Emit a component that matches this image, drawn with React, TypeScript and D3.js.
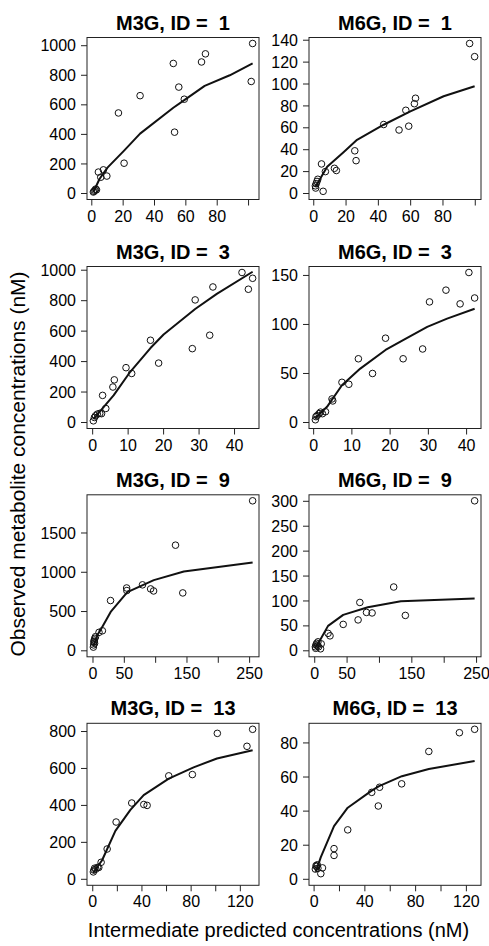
import React from 'react';
import * as d3 from 'd3';

type Pt = [number, number];

// observed (x = intermediate predicted, y = observed) and fitted curve, per panel
const m3g1Obs: Pt[] = [
  [1.0, 10], [1.5, 15], [2.0, 22], [2.5, 30], [3.0, 25], [4.2, 145], [5.7, 110], [7.4, 160],
  [9.6, 118], [17, 545], [20.6, 205], [30.8, 662], [52, 880], [52.8, 415], [55.5, 720],
  [59, 638], [70, 890], [72.5, 945], [101.7, 758], [102.6, 1015],
];
const m3g1Fit: Pt[] = [
  [1, 10], [5, 100], [10, 175], [20.6, 290], [30.8, 405], [52, 580], [59, 632], [72, 728],
  [88, 800], [102.6, 880],
];

const m6g1Obs: Pt[] = [
  [1.0, 7], [1.2, 5], [1.5, 9], [2.0, 11], [2.5, 13], [4.8, 27], [5.8, 2], [7.2, 20],
  [12.8, 23], [14, 21], [25.4, 39], [26.2, 30], [43.3, 63], [52.8, 58], [57, 76],
  [58.8, 61.5], [62.3, 82], [63, 87], [96.5, 137], [99.6, 125],
];
const m6g1Fit: Pt[] = [
  [1, 6], [8.3, 24.5], [18.6, 38], [26.8, 49], [43.3, 62.8], [59.8, 75], [80.4, 88.8], [99.6, 98],
];

const m3g3Obs: Pt[] = [
  [0.2, 11], [0.5, 33], [0.8, 44], [1.3, 55], [2.0, 60], [2.5, 58], [2.8, 178], [3.7, 92],
  [5.7, 233], [6.1, 280], [9.4, 360], [11, 322], [16.3, 540], [18.6, 390], [28.1, 485],
  [28.9, 805], [33, 573], [33.9, 890], [42.1, 985], [43.9, 875], [45.1, 947],
];
const m3g3Fit: Pt[] = [
  [0.2, 22], [5.9, 178], [10.6, 333], [16.3, 489], [20, 578], [28.9, 745], [35, 845], [45.1, 990],
];

const m6g3Obs: Pt[] = [
  [0.45, 2.8], [0.6, 6], [0.9, 7], [1.4, 9], [1.8, 10.6], [2.3, 9], [3.1, 11], [4.8, 24],
  [5.0, 22], [7.4, 41], [9.2, 39], [11.7, 65], [15.4, 50], [18.8, 86], [23.4, 65],
  [28.5, 75], [30.3, 123], [34.6, 135], [38.3, 121], [40.6, 153], [42.1, 127],
];
const m6g3Fit: Pt[] = [
  [0.45, 4.5], [3.5, 16], [7.4, 38], [12.2, 55], [18.8, 74], [23.4, 84], [29.7, 97.5],
  [34.9, 106], [42.1, 116],
];

const m3g9Obs: Pt[] = [
  [0.6, 47], [1, 75], [1.5, 113], [2, 138], [2.5, 95], [3, 159], [4, 180], [2, 120],
  [9.6, 235], [15, 255], [28, 640], [53.7, 800], [54, 767], [79, 840], [92, 788],
  [96.7, 762], [131.7, 1345], [143.3, 737], [254.8, 1910],
];
const m3g9Fit: Pt[] = [
  [0.6, 55], [7, 201], [13.4, 285], [28.2, 495], [54.8, 746], [97.1, 900], [145, 1010], [254.8, 1123],
];

const m6g9Obs: Pt[] = [
  [1, 8], [1.5, 5], [2, 12], [3, 15], [4, 10], [5, 18], [6, 8], [9, 4], [10, 14],
  [20.6, 35], [23.6, 30], [44, 53], [67, 62], [69.7, 97], [80, 77], [88.6, 76],
  [122, 128], [140, 71], [247, 301],
];
const m6g9Fit: Pt[] = [
  [1.5, 7], [7.7, 20], [20.6, 50], [44, 72], [82, 87.5], [133, 99.5], [247, 105],
];

const m3g13Obs: Pt[] = [
  [0.5, 40], [1, 50], [1.5, 60], [2.5, 55], [4, 65], [4.9, 64], [6.8, 92], [11.7, 164],
  [19, 310], [31.7, 413], [41.5, 405], [44.2, 400], [61.8, 560], [81, 567], [101.3, 790],
  [125.4, 720], [130, 812],
];
const m3g13Fit: Pt[] = [
  [0.3, 35], [7.6, 103], [18.4, 262], [30.6, 376], [41.4, 456], [61.8, 545], [82, 606],
  [101, 654], [130, 699],
];

const m6g13Obs: Pt[] = [
  [1, 6], [1.5, 8], [2, 7.5], [2.5, 8.5], [3, 6.5], [5.3, 3.3], [6.6, 6.7], [15.7, 18],
  [15.7, 14], [26.5, 29], [45.4, 51], [50.6, 43], [51.6, 54], [69, 56], [90.4, 75],
  [114.5, 86], [126.5, 88],
];
const m6g13Fit: Pt[] = [
  [1.3, 4.4], [5.3, 13], [15.7, 31.2], [26.5, 42], [45.4, 52], [51.2, 54.7], [69.2, 60.5],
  [90.4, 64.7], [126.5, 69.4],
];

// tick values (R pretty); labels R kept after dropping overlaps
const xTicks100 = [0, 20, 40, 60, 80, 100];
const xLabels100 = [0, 20, 40, 60, 80];
const xTicks40 = [0, 10, 20, 30, 40];
const xTicks250 = [0, 50, 100, 150, 200, 250];
const xLabels250 = [0, 50, 150, 250];
const xTicks120 = [0, 20, 40, 60, 80, 100, 120];
const xLabels120 = [0, 40, 80, 120];

const yTicks1000 = [0, 200, 400, 600, 800, 1000];
const yTicks140 = [0, 20, 40, 60, 80, 100, 120, 140];
const yTicks150 = [0, 50, 100, 150];
const yTicks1500 = [0, 500, 1000, 1500];
const yTicks300 = [0, 50, 100, 150, 200, 250, 300];
const yTicks800 = [0, 200, 400, 600, 800];
const yTicks80 = [0, 20, 40, 60, 80];

const titles = [
  'M3G, ID =  1', 'M6G, ID =  1',
  'M3G, ID =  3', 'M6G, ID =  3',
  'M3G, ID =  9', 'M6G, ID =  9',
  'M3G, ID =  13', 'M6G, ID =  13',
];

const panels = [
  { obs: m3g1Obs, fit: m3g1Fit, xTicks: xTicks100, xLabels: xLabels100, yTicks: yTicks1000 },
  { obs: m6g1Obs, fit: m6g1Fit, xTicks: xTicks100, xLabels: xLabels100, yTicks: yTicks140 },
  { obs: m3g3Obs, fit: m3g3Fit, xTicks: xTicks40, xLabels: xTicks40, yTicks: yTicks1000 },
  { obs: m6g3Obs, fit: m6g3Fit, xTicks: xTicks40, xLabels: xTicks40, yTicks: yTicks150 },
  { obs: m3g9Obs, fit: m3g9Fit, xTicks: xTicks250, xLabels: xLabels250, yTicks: yTicks1500 },
  { obs: m6g9Obs, fit: m6g9Fit, xTicks: xTicks250, xLabels: xLabels250, yTicks: yTicks300 },
  { obs: m3g13Obs, fit: m3g13Fit, xTicks: xTicks120, xLabels: xLabels120, yTicks: yTicks800 },
  { obs: m6g13Obs, fit: m6g13Fit, xTicks: xTicks120, xLabels: xLabels120, yTicks: yTicks80 },
];

const W = 489;
const H = 946;
const colLeft = [87, 309];
const rowTop = [37.5, 266.5, 494.8, 723.3];
const boxW = 172;
const boxH = 162;
const tickLen = 6;
const font = '"Liberation Sans", Arial, Helvetica, sans-serif';

function Panel({ p, title, x0, y0 }) {
  const [xmin, xmax] = d3.extent(p.obs, (d: Pt) => d[0]) as [number, number];
  const xr = xmax - xmin;
  const x = d3.scaleLinear().domain([xmin - 0.04 * xr, xmax + 0.04 * xr]).range([x0, x0 + boxW]);
  const ymax = d3.max(p.obs, (d: Pt) => d[1]) as number;
  const y = d3.scaleLinear().domain([-0.04 * ymax, 1.04 * ymax]).range([y0 + boxH, y0]);
  const line = d3.line<Pt>().x((d) => x(d[0])).y((d) => y(d[1]));
  const bottom = y0 + boxH;

  return (
    <g>
      <text x={x0 + boxW / 2} y={y0 - 8} textAnchor="middle" fontSize={20} fontWeight="bold"
        style={{ whiteSpace: 'pre' }} fill="#000">{title}</text>
      <rect x={x0} y={y0} width={boxW} height={boxH} fill="none" stroke="#222" strokeWidth={1} />
      {p.yTicks.map((t) => (
        <g key={'y' + t}>
          <line x1={x0 - tickLen} x2={x0} y1={y(t)} y2={y(t)} stroke="#222" />
          <text x={x0 - 11} y={y(t)} dy="0.35em" textAnchor="end" fontSize={16} fill="#000">{t}</text>
        </g>
      ))}
      {p.xTicks.map((t) => (
        <line key={'x' + t} x1={x(t)} x2={x(t)} y1={bottom} y2={bottom + tickLen} stroke="#222" />
      ))}
      {p.xLabels.map((t) => (
        <text key={'xl' + t} x={x(t)} y={bottom + 22} textAnchor="middle" fontSize={16} fill="#000">{t}</text>
      ))}
      <path d={line(p.fit) || ''} fill="none" stroke="#111" strokeWidth={2} strokeLinejoin="round" />
      {p.obs.map((d, i) => (
        <circle key={i} cx={x(d[0])} cy={y(d[1])} r={3.3} fill="none" stroke="#111" strokeWidth={1} />
      ))}
    </g>
  );
}

export default function App() {
  return (
    <svg width={W} height={H} style={{ position: 'absolute', left: 0, top: 0, background: '#fff' }}
      fontFamily={font}>
      <rect width={W} height={H} fill="#fff" />
      {panels.map((p, i) => (
        <Panel key={i} p={p} title={titles[i]} x0={colLeft[i % 2]} y0={rowTop[Math.floor(i / 2)]} />
      ))}
      <text transform={`translate(25,464) rotate(-90)`} textAnchor="middle" fontSize={21} fill="#000">
        Observed metabolite concentrations (nM)
      </text>
      <text x={278.5} y={937} textAnchor="middle" fontSize={20} fill="#000">
        Intermediate predicted concentrations (nM)
      </text>
    </svg>
  );
}
